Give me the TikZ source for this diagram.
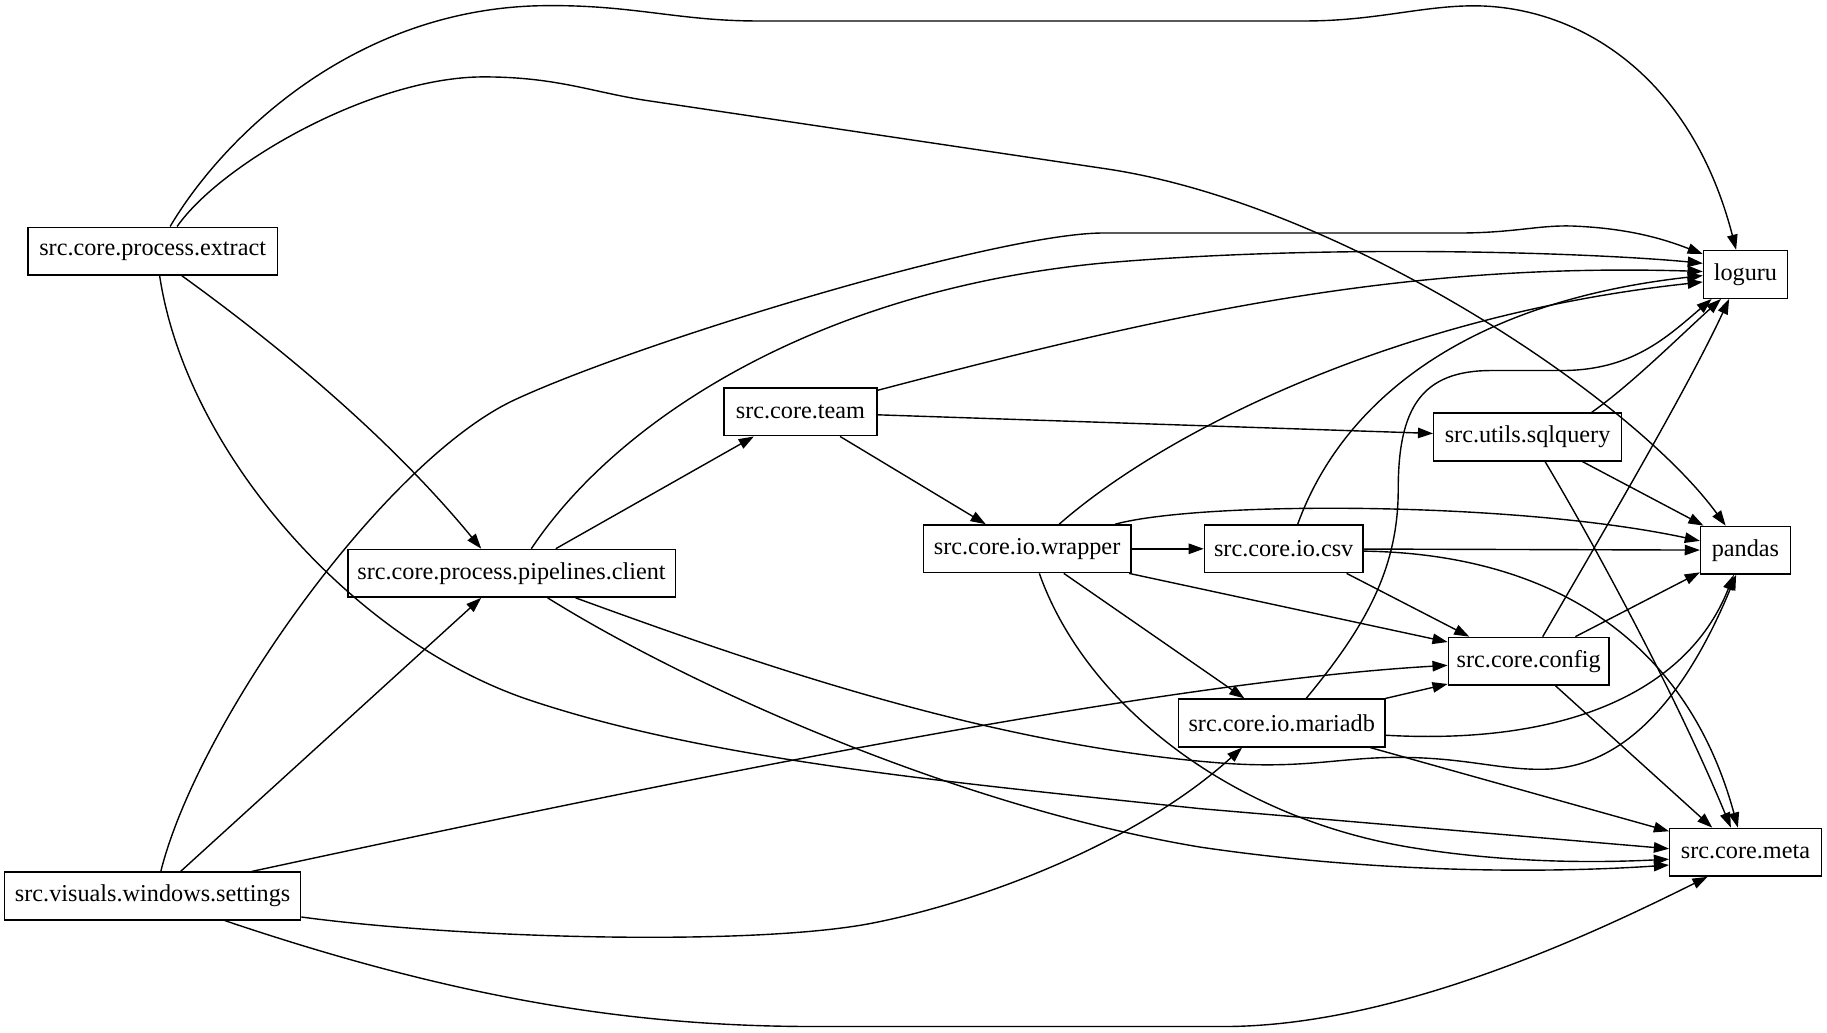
\documentclass[tikz,border=0pt]{standalone}
\usepackage{fontspec}
\setmainfont{Liberation Serif}
\usetikzlibrary{positioning,arrows.meta}

\begin{document}
\begin{tikzpicture}[
  x=1pt, y=-1pt,
  node distance=62pt,
  mod/.style={rectangle, draw=black, line width=1.2pt, minimum height=41pt,
              inner sep=0pt, font=\fontsize{20.8}{24}\selectfont},
  dep/.style={-{Triangle[length=13pt,width=9pt]}, line width=1.2pt}
]
\useasboundingbox (0,0) rectangle (1568,886);

\node[mod, minimum width=214pt] (extract) at (131,215.5) {src.core.process.extract};
\node[mod, minimum width=254pt] (settings) at (131,769) {src.visuals.windows.settings};
\node[mod, minimum width=281pt] (client) at (439,492) {src.core.process.pipelines.client};
\node[mod, minimum width=131pt] (team) at (687,353.5) {src.core.team};
\node[mod, minimum width=178pt] (wrapper) at (881.5,471) {src.core.io.wrapper};
\node[mod, minimum width=136pt, right=of wrapper] (csv) {src.core.io.csv};
\node[mod, minimum width=177pt] (mariadb) at (1100,620.5) {src.core.io.mariadb};
\node[mod, minimum width=161pt] (sqlquery) at (1311,375) {src.utils.sqlquery};
\node[mod, minimum width=138pt] (config) at (1312,567.5) {src.core.config};
\node[mod, minimum width=72pt] (loguru) at (1498,235.5) {loguru};
\node[mod, minimum width=77pt, below=194.5pt of loguru] (pandas) {pandas};
\node[mod, minimum width=130pt, below=217pt of pandas] (meta) {src.core.meta};

% src.core.process.extract
\draw[dep] ([xshift=15pt]extract.north) .. controls (190,120) and (300,10) .. (460,5)
  .. controls (540,3) and (580,18) .. (650,18) -- (1120,18)
  .. controls (1180,18) and (1220,5) .. (1265,5)
  .. controls (1350,5) and (1450,60) .. ([xshift=-8pt]loguru.north);
\draw[dep] ([xshift=21pt]extract.north) .. controls (190,140) and (320,66) .. (415,66)
  .. controls (480,66) and (510,80) .. (560,87) -- (950,145)
  .. controls (1150,175) and (1400,340) .. ([xshift=-17pt]pandas.north);
\draw[dep] ([xshift=25pt]extract.south) .. controls (230,290) and (330,370) .. ([xshift=-26pt]client.north);
\draw[dep] ([xshift=6pt]extract.south) .. controls (160,390) and (305,551) .. (455,601)
  .. controls (605,651) and (800,670) .. (1030,694) -- ([yshift=3pt]meta.west);

% src.visuals.windows.settings
\draw[dep] ([xshift=7pt]settings.north) .. controls (170,620) and (330,395) .. (442,343)
  .. controls (550,293) and (850,202) .. (944,200) -- (1250,200)
  .. controls (1300,200) and (1320,193) .. (1350,194)
  .. controls (1400,196) and (1430,206) .. ([yshift=17.5pt]loguru.west);
\draw[dep] ([xshift=24pt]settings.north) -- ([xshift=-26pt]client.south);
\draw[dep] ([xshift=85pt]settings.north) .. controls (600,665) and (1000,585) .. ([yshift=-3.5pt]config.west);
\draw[dep] ([yshift=-18pt]settings.east) .. controls (400,806) and (650,812) .. (750,792)
  .. controls (850,772) and (980,720) .. ([xshift=-34pt]mariadb.south);
\draw[dep] ([xshift=62pt]settings.south) .. controls (400,860) and (550,881) .. (700,881) -- (1050,881)
  .. controls (1200,881) and (1370,800) .. ([xshift=-32.5pt]meta.south);

% src.core.process.pipelines.client
\draw[dep] ([xshift=17pt]client.north) .. controls (530,360) and (700,250) .. (944,226)
  .. controls (1150,208) and (1380,218) .. ([yshift=9.5pt]loguru.west);
\draw[dep] ([xshift=38pt]client.north) -- ([xshift=-40pt]team.south);
\draw[dep] ([xshift=31pt]client.south) .. controls (590,588) and (820,692) .. (1030,727)
  .. controls (1200,752) and (1350,748) .. ([yshift=-11pt]meta.west);
\draw[dep] ([xshift=55pt]client.south) .. controls (650,570) and (850,640) .. (1050,655)
  .. controls (1120,660) and (1150,650) .. (1200,650)
  .. controls (1260,650) and (1290,662) .. (1330,660)
  .. controls (1400,656) and (1450,590) .. ([xshift=-8pt]pandas.south);

% src.core.team
\draw[dep] ([yshift=18.5pt]team.east) .. controls (1000,270) and (1200,225) .. ([yshift=2.5pt]loguru.west);
\draw[dep] ([yshift=-2.5pt]team.east) -- ([yshift=3pt]sqlquery.west);
\draw[dep] ([xshift=34pt]team.south) -- ([xshift=-35.5pt]wrapper.north);

% src.core.io.wrapper
\draw[dep] ([xshift=27.5pt]wrapper.north) .. controls (1000,370) and (1200,270) .. ([yshift=-6.5pt]loguru.west);
\draw[dep] ([xshift=75.5pt]wrapper.north) .. controls (1030,430) and (1300,430) .. ([yshift=8pt]pandas.west);
\draw[dep] (wrapper) -- (csv);
\draw[dep] ([xshift=87.5pt]wrapper.south) -- ([yshift=16.5pt]config.west);
\draw[dep] ([xshift=31.5pt]wrapper.south) -- ([xshift=-32pt]mariadb.north);
\draw[dep] ([xshift=10.5pt]wrapper.south) .. controls (930,600) and (1050,700) .. (1209,727)
  .. controls (1300,742) and (1380,740) .. ([yshift=-6pt]meta.west);

% src.core.io.csv
\draw[dep] ([xshift=12pt]csv.north) .. controls (1150,350) and (1250,260) .. ([yshift=-1pt]loguru.west);
\draw[dep] (csv) -- (pandas);
\draw[dep] ([xshift=54pt]csv.south) -- ([xshift=-51pt]config.north);
\draw[dep] ([yshift=-2pt]csv.east) .. controls (1320,475) and (1445,540) .. ([xshift=-6.5pt]meta.north);

% src.core.io.mariadb
\draw[dep] ([xshift=21pt]mariadb.north) .. controls (1170,540) and (1200,490) .. (1200,420)
  .. controls (1200,350) and (1220,318) .. (1280,318) -- (1340,318)
  .. controls (1400,318) and (1430,290) .. ([xshift=-29pt]loguru.south);
\draw[dep] (mariadb.north east) -- ([yshift=-19.5pt]config.west);
\draw[dep] ([yshift=-10.5pt]mariadb.east) .. controls (1350,640) and (1450,590) .. ([xshift=-10pt]pandas.south);
\draw[dep] ([xshift=76pt]mariadb.south) -- ([yshift=18pt]meta.west);

% src.utils.sqlquery
\draw[dep] ([xshift=55pt]sqlquery.north) .. controls (1400,330) and (1440,290) .. ([xshift=-21pt]loguru.south);
\draw[dep] ([xshift=47pt]sqlquery.south) -- ([xshift=-36pt]pandas.north);
\draw[dep] ([xshift=15pt]sqlquery.south) .. controls (1370,470) and (1440,600) .. ([xshift=-12.5pt]meta.north);

% src.core.config
\draw[dep] ([xshift=12pt]config.north) .. controls (1380,450) and (1450,330) .. ([xshift=-14pt]loguru.south);
\draw[dep] ([xshift=40pt]config.north) -- ([yshift=-19pt]pandas.west);
\draw[dep] ([xshift=23pt]config.south) -- ([xshift=-28.5pt]meta.north);
\end{tikzpicture}
\end{document}
